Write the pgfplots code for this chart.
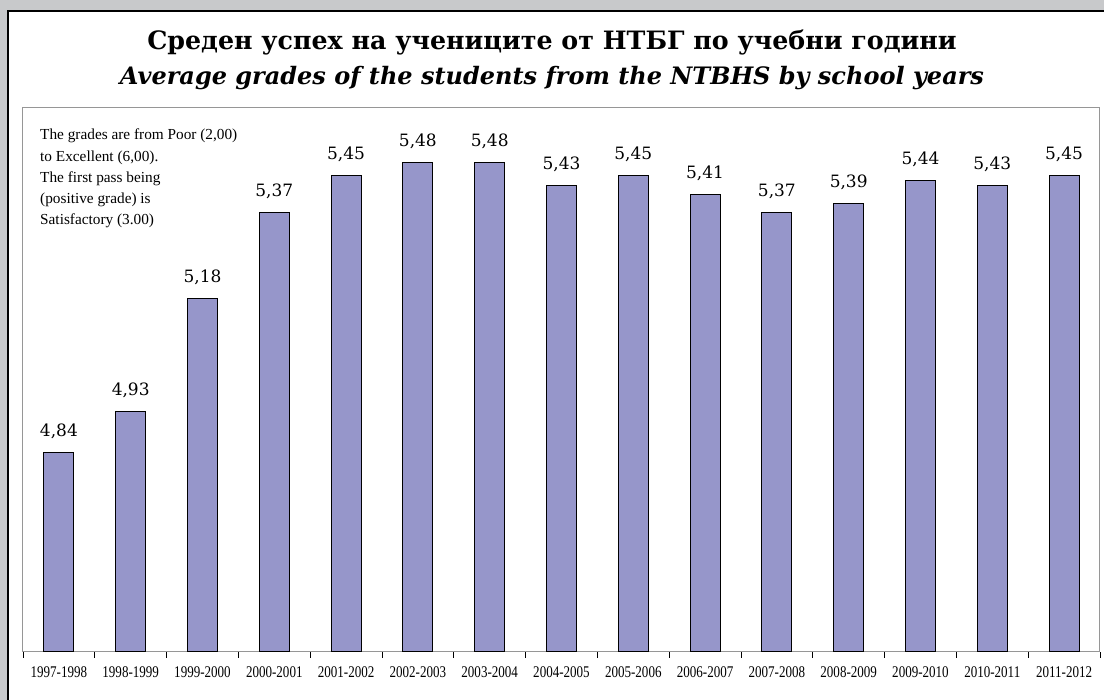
\documentclass[border=0pt]{standalone}
\usepackage{fontspec}
\setmainfont{DejaVu Serif}
\newfontfamily\tickfont[FakeStretch=0.8]{Liberation Serif}
\newfontfamily\notefont{Liberation Serif}
\usepackage{pgfplots}
\pgfplotsset{compat=1.18}
\definecolor{bggray}{RGB}{200,201,203}
\definecolor{barblue}{RGB}{150,150,202}
\definecolor{framegray}{RGB}{150,150,150}
\begin{document}
\begin{tikzpicture}
\useasboundingbox (0pt,0pt) rectangle (1104pt,700pt);
\clip (0pt,0pt) rectangle (1104pt,700pt);
\fill[bggray] (0pt,0pt) rectangle (1104pt,700pt);
\filldraw[fill=white,draw=black,line width=1.5pt] (8pt,-10pt) rectangle (1120pt,689pt);
\node[anchor=base,font=\fontsize{25.3}{30}\selectfont\bfseries] at (552pt,650pt) {Среден успех на учениците от НТБГ по учебни години};
\node[anchor=base,font=\fontsize{24}{30}\selectfont\bfseries\itshape] at (552pt,615pt) {Average grades of the students from the NTBHS by school years};
\begin{axis}[
  at={(23pt,48pt)}, anchor=south west,
  scale only axis, width=1077pt, height=544pt,
  xmin=-0.5, xmax=14.5, ymin=4.4, ymax=5.6,
  ybar, bar width=0.42,
  axis line style={draw=framegray, line width=1pt},
  ytick=\empty,
  xtick={0,...,14},
  xticklabels={1997-1998,1998-1999,1999-2000,2000-2001,2001-2002,2002-2003,2003-2004,2004-2005,2005-2006,2006-2007,2007-2008,2008-2009,2009-2010,2010-2011,2011-2012},
  major x tick style={draw=none},
  minor xtick={-0.5,0.5,...,14.5},
  minor x tick style={draw=black, line width=0.8pt},
  minor tick length=6pt,
  tick align=outside, xtick pos=bottom,
  xticklabel style={font=\tickfont\fontsize{16.3}{18}\selectfont, yshift=-7pt},
  nodes near coords,
  /pgf/number format/assume math mode=true,
  /pgf/number format/use comma,
  /pgf/number format/fixed,
  /pgf/number format/precision=2,
  /pgf/number format/fixed zerofill,
  every node near coord/.append style={font=\fontsize{17}{20}\selectfont, anchor=base, inner sep=0pt, yshift=16pt},
  clip=false,
]
\addplot[fill=barblue, draw=black, line width=1pt] coordinates {
(0,4.84) (1,4.93) (2,5.18) (3,5.37) (4,5.45) (5,5.48) (6,5.48) (7,5.43) (8,5.45) (9,5.41) (10,5.37) (11,5.39) (12,5.44) (13,5.43) (14,5.45)};
\end{axis}
\node[anchor=north west, align=left, inner sep=0pt, font=\notefont\fontsize{15.3}{21.25}\selectfont] at (40pt,571pt) {The grades are from Poor (2,00)\\to Excellent (6,00).\\The first pass being\\(positive grade) is\\Satisfactory (3.00)};
\end{tikzpicture}
\end{document}
